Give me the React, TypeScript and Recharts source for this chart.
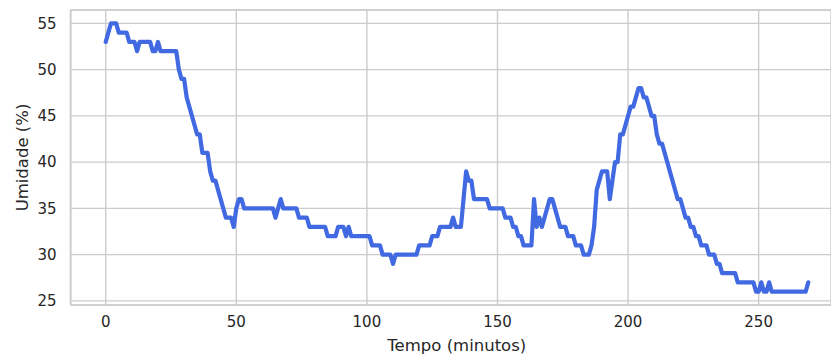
import { LineChart, Line, XAxis, YAxis, CartesianGrid, ReferenceLine } from "recharts";

// umidade lida a cada minuto (0..269)
const umidade = [
  53, 54, 55, 55, 55, 54, 54, 54, 54, 53,
  53, 53, 52, 53, 53, 53, 53, 53, 52, 52,
  53, 52, 52, 52, 52, 52, 52, 52, 50, 49,
  49, 47, 46, 45, 44, 43, 43, 41, 41, 41,
  39, 38, 38, 37, 36, 35, 34, 34, 34, 33,
  35, 36, 36, 35, 35, 35, 35, 35, 35, 35,
  35, 35, 35, 35, 35, 34, 35, 36, 35, 35,
  35, 35, 35, 35, 34, 34, 34, 34, 33, 33,
  33, 33, 33, 33, 33, 32, 32, 32, 32, 33,
  33, 33, 32, 33, 32, 32, 32, 32, 32, 32,
  32, 32, 31, 31, 31, 31, 30, 30, 30, 30,
  29, 30, 30, 30, 30, 30, 30, 30, 30, 30,
  31, 31, 31, 31, 31, 32, 32, 32, 33, 33,
  33, 33, 33, 34, 33, 33, 33, 36, 39, 38,
  38, 36, 36, 36, 36, 36, 36, 35, 35, 35,
  35, 35, 35, 34, 34, 34, 33, 33, 32, 32,
  31, 31, 31, 31, 36, 33, 34, 33, 34, 35,
  36, 36, 35, 34, 33, 33, 33, 32, 32, 32,
  31, 31, 31, 30, 30, 30, 31, 33, 37, 38,
  39, 39, 39, 36, 38, 40, 40, 43, 43, 44,
  45, 46, 46, 47, 48, 48, 47, 47, 46, 45,
  45, 43, 42, 42, 41, 40, 39, 38, 37, 36,
  36, 35, 34, 34, 33, 33, 32, 32, 31, 31,
  31, 30, 30, 30, 29, 29, 28, 28, 28, 28,
  28, 28, 27, 27, 27, 27, 27, 27, 27, 26,
  26, 27, 26, 26, 27, 26, 26, 26, 26, 26,
  26, 26, 26, 26, 26, 26, 26, 26, 26, 27,
];
const tempo = umidade.map((_, i) => i);

const xTicks = [0, 50, 100, 150, 200, 250];
const yTicks = [25, 30, 35, 40, 45, 50, 55];

const data = tempo.map((t, i) => ({ t, umidade: umidade[i] }));

const FONT = "'DejaVu Sans', sans-serif";
const TEXT = "#262626";
const GRID = "#cccccc";

export default function App() {
  return (
    <div style={{ position: "absolute", left: 0, top: 0, width: 831, height: 358, overflow: "hidden", background: "#fff" }}>
      <LineChart
        width={831}
        height={358}
        data={data}
        margin={{ top: 10, right: 0, left: 0, bottom: 0 }}
        style={{ fontFamily: FONT }}
      >
        <CartesianGrid stroke={GRID} strokeWidth={1.4} />
        <XAxis
          dataKey="t"
          type="number"
          domain={[-13.45, 277.7]}
          ticks={xTicks}
          allowDataOverflow
          height={53}
          tickLine={false}
          tickSize={0}
          tickMargin={11}
          axisLine={{ stroke: GRID, strokeWidth: 1.7 }}
          tick={{ fill: TEXT, fontSize: 15, fontFamily: FONT }}
          label={{ value: "Tempo (minutos)", position: "insideBottom", offset: 7, dx: 6, fill: TEXT, fontSize: 16.5, fontFamily: FONT }}
        />
        <YAxis
          type="number"
          domain={[24.55, 56.45]}
          ticks={yTicks}
          allowDataOverflow
          width={70.6}
          tickLine={false}
          tickSize={0}
          tickMargin={14}
          axisLine={{ stroke: GRID, strokeWidth: 1.7 }}
          tick={{ fill: TEXT, fontSize: 15, fontFamily: FONT }}
          label={{ value: "Umidade (%)", angle: -90, position: "center", dx: -13, fill: TEXT, fontSize: 16.5, fontFamily: FONT }}
        />
        <ReferenceLine y={56.45} stroke={GRID} strokeWidth={1.7} />
        <Line
          type="linear"
          dataKey="umidade"
          stroke="#4169e1"
          strokeWidth={4.2}
          strokeLinejoin="round"
          strokeLinecap="round"
          dot={false}
          isAnimationActive={false}
        />
      </LineChart>
    </div>
  );
}
